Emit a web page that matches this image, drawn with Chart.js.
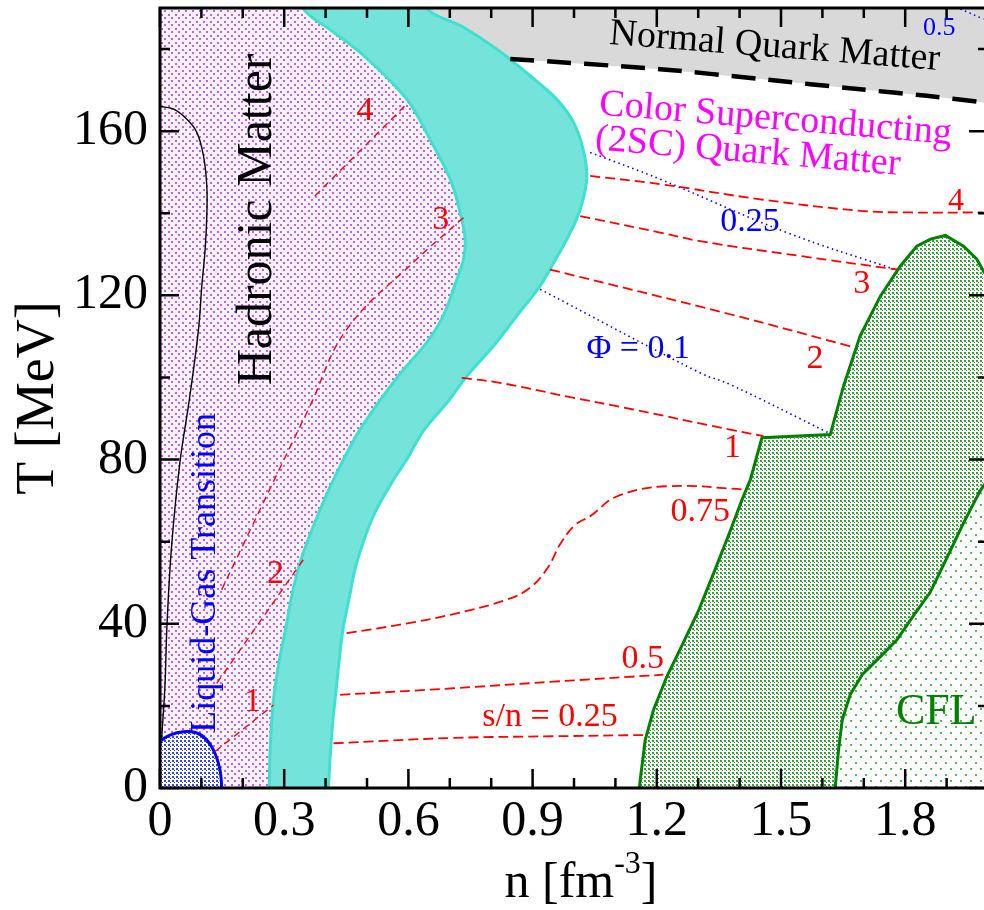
<!DOCTYPE html>
<html>
<head>
<meta charset="utf-8">
<script src="https://cdn.jsdelivr.net/npm/chart.js@4.4.1/dist/chart.umd.min.js"></script>
<style>
html, body { margin: 0; padding: 0; overflow: hidden; background: #fff; }
canvas { display: block; }
</style>
</head>
<body>
<canvas id="c" width="1000" height="910"></canvas>
<script>
// ---------------- data ----------------
const N_MIN = 0, N_MAX = 2.0, T_MIN = 0, T_MAX = 190;
const xMajorTicks = [0, 0.3, 0.6, 0.9, 1.2, 1.5, 1.8];
const xTickLabels = ['0', '0.3', '0.6', '0.9', '1.2', '1.5', '1.8'];
const yMajorTicks = [0, 40, 80, 120, 160];
const yTickLabels = ['0', '40', '80', '120', '160'];
const xMinorStep = 0.1, yMinorStep = 20;

// hadronic matter / mixed phase boundary (top -> bottom)
const bandLeftN = [0.345, 0.41, 0.49, 0.596, 0.652, 0.701, 0.725, 0.737, 0.733, 0.717, 0.684, 0.644, 0.575, 0.483, 0.419, 0.370, 0.338, 0.318, 0.303, 0.288, 0.274, 0.266, 0.264];
const bandLeftT = [190, 184.8, 178.6, 167.8, 158, 148.3, 140.2, 133.7, 128.8, 123.9, 115, 108.5, 100.3, 87.3, 75.1, 63.7, 54.8, 46.7, 38.5, 31, 21.5, 9.3, 0];
// mixed phase / 2SC quark matter boundary (top -> bottom)
const bandRightN = [0.644, 0.733, 0.813, 0.894, 0.958, 0.999, 1.022, 1.031, 1.022, 1.006, 0.974, 0.955, 0.918, 0.862, 0.805, 0.741, 0.693, 0.636, 0.596, 0.564, 0.515, 0.475, 0.457, 0.441, 0.427, 0.415, 0.407];
const bandRightT = [190, 185.3, 180, 173.5, 167.8, 162.1, 155.6, 149.1, 143.4, 138.5, 132, 128.7, 122.3, 115, 107.6, 100.3, 93.8, 87, 80, 75.1, 66.2, 54.8, 46.3, 38, 25.5, 13.3, 0];
// liquid-gas coexistence region
const lgN = [0, 0.004, 0.024, 0.056, 0.089, 0.113, 0.133, 0.145, 0.149];
const lgT = [11, 11.7, 12.9, 13.7, 13.4, 11.7, 8.4, 4.4, 0];
// thin black curve
const spinN = [0, 0.032, 0.065, 0.089, 0.105, 0.113, 0.113, 0.109, 0.101, 0.093, 0.072, 0.048, 0.028, 0.017, 0.012, 0.004];
const spinT = [166, 165.4, 162.9, 159.7, 154, 146.7, 139.3, 131.2, 122.3, 111.7, 95.4, 79.2, 58.9, 40, 25, 12];
// normal quark matter boundary (thick dashed)
const nqmN = [0.846, 1.208, 1.450, 1.691, 1.852, 1.989];
const nqmT = [177.6, 175.1, 172.7, 170.2, 168.6, 167.0];
// 2SC-CFL mixed region, outer boundary (bottom -> peak -> right edge)
const mixN = [1.158, 1.160, 1.172, 1.192, 1.224, 1.256, 1.300, 1.340, 1.375, 1.405, 1.426, 1.454, 1.619, 1.651, 1.691, 1.740, 1.788, 1.828, 1.861, 1.897, 1.941, 1.973, 1.991];
const mixT = [0, 2, 11.7, 19, 27.1, 33.7, 43, 53, 62, 70, 75.1, 85.3, 86.1, 97.9, 110.1, 119.8, 127.1, 132, 133.7, 134.6, 132, 128.8, 125.6];
// boundary to pure CFL (top -> bottom)
const cflN = [2.02, 1.981, 1.941, 1.901, 1.860, 1.820, 1.780, 1.740, 1.696, 1.667, 1.648, 1.639, 1.631];
const cflT = [78, 72.4, 64.6, 56.1, 47.6, 42, 36.1, 32, 27.6, 22.7, 16.6, 9.3, 0];

// isentropes s/n in hadronic matter
const sH1N = [0.133, 0.274], sH1T = [8.9, 20.2];
const sH2N = [0.137, 0.346], sH2T = [25.5, 55.6];
const sH3N = [0.149, 0.29, 0.362, 0.451, 0.620, 0.733], sH3T = [48.3, 78, 93, 111.7, 128.8, 138.9];
const sH4N = [0.374, 0.600], sH4T = [144.2, 167];
// isentropes s/n in quark matter
const sQ025N = [0.419, 0.709, 0.950, 1.172], sQ025T = [10.9, 12.2, 12.6, 12.9];
const sQ05N = [0.435, 0.709, 0.950, 1.216], sQ05T = [22.7, 24.3, 25.9, 27.6];
const sQ075N = [0.451, 0.580, 0.701, 0.838, 0.894, 0.937, 0.966, 1.003, 1.039, 1.103, 1.224, 1.417];
const sQ075T = [37.7, 39.8, 42.2, 45.9, 48.8, 53.7, 59.3, 64.1, 66.2, 71, 73.5, 72.7];
const sQ1N = [0.729, 0.821, 0.982, 1.143, 1.377, 1.458], sQ1T = [99.9, 98.7, 95.4, 92.2, 87.3, 85.7];
const sQ2N = [0.942, 1.377, 1.667], sQ2T = [126.3, 115.4, 107.6];
const sQ3N = [1.015, 1.208, 1.305, 1.546, 1.780], sQ3T = [139.3, 135.3, 133.2, 129.6, 126.3];
const sQ4N = [1.039, 1.208, 1.450, 1.691, 1.812, 1.989], sQ4T = [149.1, 147.1, 143.4, 140.6, 140.2, 140.2];
// Polyakov loop contours
const phi01N = [0.918, 1.305, 1.377, 1.615], phi01T = [121.5, 101.1, 98.3, 86.5];
const phi025N = [1.039, 1.208, 1.514, 1.776], phi025T = [154.8, 148.3, 135.3, 126.3];
const phi05N = [1.933, 1.989], phi05T = [189.8, 187.3];

// ---------------- text annotations (anchored in data space) ----------------
const SERIF = "'Liberation Serif', 'Times New Roman', serif";
const annotations = [
  {text: 'Hadronic Matter', n: 0.2356, T: 138.5, color: '#000000', size: 50, rot: -90},
  {text: 'Liquid-Gas Transition', n: 0.111, T: 52.4, color: '#0000ff', size: 36, rot: -90},
  {text: 'Normal Quark Matter', n: 1.485, T: 180.5, color: '#000000', size: 38, rot: 4.5},
  {text: 'Color Superconducting', n: 1.487, T: 162.9, color: '#ff00ff', size: 38, rot: 4.8},
  {text: '(2SC) Quark Matter', n: 1.420, T: 154.9, color: '#ff00ff', size: 38, rot: 4.8},
  {text: 'CFL', n: 1.875, T: 18.3, color: '#008000', size: 44, rot: 0},
  {text: '1', n: 0.2235, T: 20.9, color: '#ff0000', size: 34, rot: 0},
  {text: '2', n: 0.279, T: 52, color: '#ff0000', size: 34, rot: 0},
  {text: '3', n: 0.678, T: 138.3, color: '#ff0000', size: 34, rot: 0},
  {text: '4', n: 0.495, T: 164.9, color: '#ff0000', size: 34, rot: 0},
  {text: '4', n: 1.923, T: 142.8, color: '#ff0000', size: 32, rot: 0},
  {text: '3', n: 1.695, T: 122.7, color: '#ff0000', size: 34, rot: 0},
  {text: '2', n: 1.582, T: 104.6, color: '#ff0000', size: 34, rot: 0},
  {text: '1', n: 1.383, T: 82.7, color: '#ff0000', size: 34, rot: 0},
  {text: '0.75', n: 1.305, T: 67.3, color: '#ff0000', size: 34, rot: 0},
  {text: '0.5', n: 1.166, T: 31.3, color: '#ff0000', size: 34, rot: 0},
  {text: 's/n = 0.25', n: 0.942, T: 17.2, color: '#ff0000', size: 34, rot: 0},
  {text: 'Φ = 0.1', n: 1.155, T: 106.8, color: '#0000ff', size: 34, rot: 0},
  {text: '0.25', n: 1.425, T: 137.9, color: '#0000ff', size: 34, rot: 0},
  {text: '0.5', n: 1.882, T: 185.1, color: '#0000ff', size: 26, rot: 0}
];

// ---------------- helpers ----------------
function pts(N, T) { return N.map((n, i) => ({x: n, y: T[i]})); }
function rev(a) { return a.slice().reverse(); }
const OUT = 6;
function makePattern(w, h, bg, dot, dots) {
  const c = document.createElement('canvas');
  c.width = w; c.height = h;
  const g = c.getContext('2d');
  g.fillStyle = bg; g.fillRect(0, 0, w, h);
  g.fillStyle = dot;
  dots.forEach(([a, b, sw, sh]) => g.fillRect(a, b, sw, sh));
  return g.createPattern(c, 'repeat');
}
const patHadron = makePattern(7, 7, '#fbf4fd', '#c65ef0', [[0, 0, 2, 2], [3, 3, 2, 2]]);
const bandFill = '#74e3d9';
const patLG = makePattern(4, 4, '#ffffff', '#3445f0', [[0, 0, 2, 2], [2, 2, 1, 1]]);
const patMix = makePattern(4, 4, '#ffffff', '#3a9f3a', [[0, 0, 2, 2], [2, 2, 1, 1]]);
const patCFL = makePattern(10, 12, '#ffffff', '#5db85d', [[0, 0, 2, 2], [5, 6, 2, 2]]);

const left = pts(bandLeftN, bandLeftT), right = pts(bandRightN, bandRightT);
const hadronPoly = [{x: N_MIN - 0.1, y: T_MIN - OUT}, {x: N_MIN - 0.1, y: T_MAX + OUT}, {x: bandLeftN[0], y: T_MAX + OUT}]
  .concat(left, [{x: bandLeftN[bandLeftN.length - 1], y: T_MIN - OUT}]);
const bandPoly = [{x: bandLeftN[0], y: T_MAX + OUT}].concat(left,
  [{x: bandLeftN[bandLeftN.length - 1], y: T_MIN - OUT}, {x: bandRightN[bandRightN.length - 1], y: T_MIN - OUT}],
  rev(right), [{x: bandRightN[0], y: T_MAX + OUT}]);
const grayPoly = [{x: bandRightN[0], y: T_MAX + OUT}].concat(
  right.filter(p => p.y >= nqmT[0]), pts(nqmN, nqmT),
  [{x: N_MAX + 0.1, y: nqmT[nqmT.length - 1]}, {x: N_MAX + 0.1, y: T_MAX + OUT}]);
const lgPoly = [{x: N_MIN - 0.05, y: T_MIN - OUT}, {x: N_MIN - 0.05, y: lgT[0]}].concat(pts(lgN, lgT),
  [{x: lgN[lgN.length - 1], y: T_MIN - OUT}]);
const cflEdge = pts(cflN, cflT);
const mixPoly = [{x: mixN[0], y: T_MIN - OUT}].concat(pts(mixN, mixT),
  [{x: N_MAX + 0.1, y: mixT[mixT.length - 1]}, {x: N_MAX + 0.1, y: cflT[0]}], cflEdge,
  [{x: cflN[cflN.length - 1], y: T_MIN - OUT}]);
const cflPoly = cflEdge.concat([{x: cflN[cflN.length - 1], y: T_MIN - OUT}, {x: N_MAX + 0.1, y: T_MIN - OUT}, {x: N_MAX + 0.1, y: cflT[0]}]);

const NONE = 'rgba(0,0,0,0)';
function region(data, bg, border, bw, order, tension) {
  return {data, backgroundColor: bg, borderColor: border || NONE, borderWidth: bw || 1, fill: 'shape',
          order, tension: tension || 0, pointRadius: 0};
}
function curve(N, T, color, width, dash, order, tension) {
  return {data: pts(N, T), borderColor: color, borderWidth: width, borderDash: dash, fill: false,
          order: order || 2, tension: tension === undefined ? 0.4 : tension, pointRadius: 0, backgroundColor: NONE};
}
const RED = '#ff0000', BLUE = '#0000ff';
const redDashH = [7, 5], redDashQ = [10, 5], blueDot = [1.5, 3.5];

const datasets = [
  region(hadronPoly, patHadron, null, 1, 30, 0.35),
  region(grayPoly, '#d9d9d9', null, 1, 30, 0),
  region(cflPoly, patCFL, null, 1, 30, 0),
  region(bandPoly, bandFill, '#40e0d0', 3, 20, 0.35),
  region(mixPoly, patMix, '#008000', 3, 20, 0),
  region(lgPoly, patLG, '#0000ff', 3, 18, 0.3),
  curve(spinN, spinT, '#000000', 1.4, [], 10, 0.4),
  curve(nqmN, nqmT, '#000000', 4.5, [24, 13], 3, 0.3),
  curve(sH1N, sH1T, RED, 1.4, redDashH), curve(sH2N, sH2T, RED, 1.4, redDashH),
  curve(sH3N, sH3T, RED, 1.4, redDashH), curve(sH4N, sH4T, RED, 1.4, redDashH),
  curve(sQ025N, sQ025T, RED, 1.8, redDashQ), curve(sQ05N, sQ05T, RED, 1.8, redDashQ),
  curve(sQ075N, sQ075T, RED, 1.8, redDashQ), curve(sQ1N, sQ1T, RED, 1.8, redDashQ),
  curve(sQ2N, sQ2T, RED, 1.8, redDashQ), curve(sQ3N, sQ3T, RED, 1.8, redDashQ),
  curve(sQ4N, sQ4T, RED, 1.8, redDashQ),
  curve(phi01N, phi01T, BLUE, 1.6, blueDot), curve(phi025N, phi025T, BLUE, 1.6, blueDot),
  curve(phi05N, phi05T, BLUE, 1.6, blueDot)
];

const decorPlugin = {
  id: 'decor',
  afterDatasetsDraw(chart) {
    const {ctx, chartArea: a, scales: {x, y}} = chart;
    ctx.save();
    annotations.forEach(t => {
      ctx.save();
      ctx.translate(x.getPixelForValue(t.n), y.getPixelForValue(t.T));
      ctx.rotate(t.rot * Math.PI / 180);
      ctx.font = t.size + 'px ' + SERIF;
      ctx.fillStyle = t.color;
      ctx.textAlign = 'center';
      ctx.textBaseline = 'middle';
      ctx.fillText(t.text, 0, 0);
      ctx.restore();
    });
    ctx.strokeStyle = '#000';
    ctx.lineWidth = 3;
    ctx.strokeRect(a.left, a.top, a.right - a.left, a.bottom - a.top);
    ctx.lineWidth = 2.5;
    ctx.beginPath();
    const nx = Math.round((N_MAX - N_MIN) / xMinorStep);
    for (let i = 0; i <= nx; i++) {
      const v = N_MIN + i * xMinorStep;
      const major = xMajorTicks.some(m => Math.abs(m - v) < 1e-9);
      const L = major ? 19 : 10;
      const px = x.getPixelForValue(v);
      ctx.moveTo(px, a.bottom); ctx.lineTo(px, a.bottom - L);
      ctx.moveTo(px, a.top); ctx.lineTo(px, a.top + L);
    }
    for (let v = T_MIN; v <= T_MAX; v += yMinorStep) {
      const major = yMajorTicks.includes(v);
      const L = major ? 19 : 10;
      const py = y.getPixelForValue(v);
      ctx.moveTo(a.left, py); ctx.lineTo(a.left + L, py);
      ctx.moveTo(a.right, py); ctx.lineTo(a.right - L, py);
    }
    ctx.stroke();
    const big = '50px ' + SERIF, small = '32px ' + SERIF;
    const p1 = 'n [fm', p2 = '-3', p3 = ']';
    ctx.font = big; const w1 = ctx.measureText(p1).width, w3 = ctx.measureText(p3).width;
    ctx.font = small; const w2 = ctx.measureText(p2).width;
    const total = w1 + w2 + w3;
    let sx = (a.left + a.right) / 2 + 7 - total / 2;
    const base = 897;
    ctx.fillStyle = '#000';
    ctx.textAlign = 'left';
    ctx.textBaseline = 'alphabetic';
    ctx.font = big; ctx.fillText(p1, sx, base); sx += w1;
    ctx.font = small; ctx.fillText(p2, sx, base - 24); sx += w2;
    ctx.font = big; ctx.fillText(p3, sx, base);
    ctx.restore();
  }
};

new Chart(document.getElementById('c'), {
  type: 'line',
  data: {datasets},
  options: {
    responsive: false,
    animation: false,
    layout: {padding: {top: 8, right: 12, left: 0, bottom: 0}},
    plugins: {legend: {display: false}, tooltip: {enabled: false}},
    scales: {
      x: {
        type: 'linear', position: 'bottom', min: N_MIN, max: N_MAX,
        afterBuildTicks: s => { s.ticks = xMajorTicks.map(v => ({value: v})); },
        afterFit: s => { s.height = 122; s.paddingLeft = 0; s.paddingRight = 0; },
        ticks: {callback: (v, i) => xTickLabels[i], font: {family: SERIF, size: 50}, color: '#000',
                padding: 4, maxRotation: 0, autoSkip: false},
        grid: {display: false, drawTicks: false},
        border: {display: false}
      },
      y: {
        type: 'linear', position: 'left', min: T_MIN, max: T_MAX,
        afterBuildTicks: s => { s.ticks = yMajorTicks.map(v => ({value: v})); },
        afterFit: s => { s.width = 160; s.paddingTop = 0; s.paddingBottom = 0; },
        ticks: {callback: (v, i) => yTickLabels[i], font: {family: SERIF, size: 50}, color: '#000',
                padding: 12, autoSkip: false},
        grid: {display: false, drawTicks: false},
        border: {display: false},
        title: {display: true, text: 'T [MeV]', font: {family: SERIF, size: 54}, color: '#000',
                padding: {top: 6, bottom: 0}}
      }
    }
  },
  plugins: [decorPlugin]
});
</script>
</body>
</html>
